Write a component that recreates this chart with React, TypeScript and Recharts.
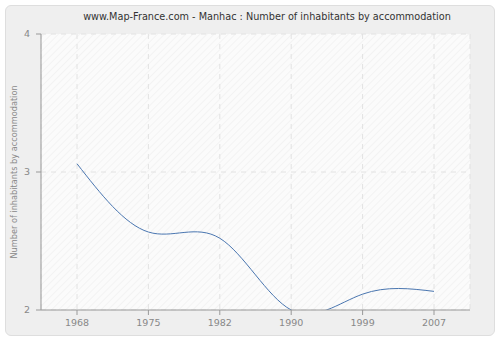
import { LineChart, Line, XAxis, YAxis, CartesianGrid } from "recharts";

const YEARS = ["1968", "1975", "1982", "1990", "1999", "2007"];
const VALUES = [3.06, 2.565, 2.52, 2.0, 2.115, 2.135];
const Y_TICKS = [2, 3, 4];

const data = YEARS.map((year, i) => ({ year, value: VALUES[i] }));

const FONT = "'DejaVu Sans', Verdana, sans-serif";

export default function App() {
  return (
    <div style={{ position: "absolute", left: 0, top: 0, width: 500, height: 340, background: "#ffffff", fontFamily: FONT }}>
      <svg width="0" height="0" style={{ position: "absolute" }}>
        <defs>
          <pattern id="hatch" width="5" height="5" patternUnits="userSpaceOnUse" patternTransform="rotate(45)">
            <rect width="5" height="5" fill="#fbfbfb" />
            <line x1="0" y1="0" x2="0" y2="5" stroke="#f1f1f1" strokeWidth="1.5" />
          </pattern>
        </defs>
      </svg>
      {/* outer panel */}
      <div
        style={{
          position: "absolute",
          left: 5,
          top: 5,
          width: 488,
          height: 329,
          background: "#efefef",
          border: "1px solid #dedede",
          borderRadius: 6,
        }}
      />
      <div
        style={{
          position: "absolute",
          left: 0,
          top: 11,
          width: 534,
          textAlign: "center",
          fontSize: 9.7,
          color: "#333",
        }}
      >
        www.Map-France.com - Manhac : Number of inhabitants by accommodation
      </div>
      <div style={{ position: "absolute", left: 0, top: 0 }}>
        <LineChart width={500} height={340} data={data} margin={{ top: 34, right: 30, bottom: 0, left: 0 }}>
          <CartesianGrid stroke="#e2e2e2" strokeDasharray="5 5" horizontal vertical fill="url(#hatch)" fillOpacity={1} />
          <XAxis
            dataKey="year"
            height={30}
            padding={{ left: 36, right: 36 }}
            tickLine={{ stroke: "#999" }}
            axisLine={{ stroke: "#999" }}
            tick={{ fill: "#888", fontSize: 9.5, fontFamily: FONT }}
            tickSize={5}
            tickMargin={4}
          />
          <YAxis
            width={41}
            domain={[2, 4]}
            ticks={Y_TICKS}
            allowDataOverflow
            tickLine={{ stroke: "#999" }}
            axisLine={{ stroke: "#999" }}
            tick={{ fill: "#888", fontSize: 9.5, fontFamily: FONT }}
            tickSize={5}
            tickMargin={6}
            label={{
              value: "Number of inhabitants by accommodation",
              angle: -90,
              position: "insideLeft",
              offset: 14,
              style: { fill: "#888", fontSize: 8.2, fontFamily: FONT, textAnchor: "middle" },
            }}
          />
          <Line
            type="natural"
            dataKey="value"
            stroke="#4a76b0"
            strokeWidth={1}
            dot={false}
            isAnimationActive={false}
          />
        </LineChart>
      </div>
    </div>
  );
}
